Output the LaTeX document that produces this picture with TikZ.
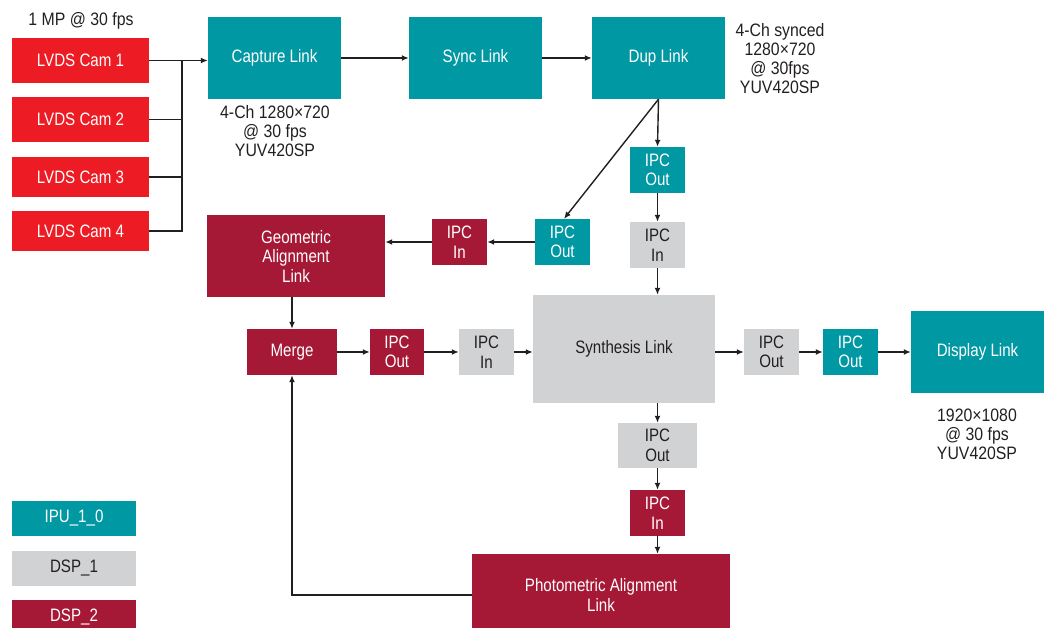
\documentclass[tikz,border=0pt]{standalone}
\usepackage{fontspec}
\setmainfont{Liberation Sans}[FakeStretch=0.84]
\newfontfamily\labelfont{Liberation Sans}[FakeStretch=0.88]
\usetikzlibrary{arrows.meta}
\definecolor{tealc}{RGB}{0,152,163}
\definecolor{redc}{RGB}{237,28,36}
\definecolor{dredc}{RGB}{166,25,54}
\definecolor{grayc}{RGB}{209,210,212}
\definecolor{inkc}{RGB}{35,31,32}
\tikzset{
  box/.style={inner sep=0pt, align=center, font=\fontsize{18}{19.5}\selectfont},
  tealbox/.style={box, fill=tealc, text=white},
  redbox/.style={box, fill=redc, text=white},
  dredbox/.style={box, fill=dredc, text=white},
  graybox/.style={box, fill=grayc, text=inkc},
  lbl/.style={inner sep=0pt, align=center, text=inkc, font=\labelfont\fontsize{18}{19}\selectfont},
  conn/.style={draw=inkc, line width=1.4pt},
  arr/.style={conn, -{Latex[length=7pt,width=6pt]}},
}
\begin{document}
\begin{tikzpicture}[x=1pt,y=-1pt]
\useasboundingbox (0,0) rectangle (1045,628);
% cameras
\node[redbox, minimum width=137, minimum height=45] (cam1) at (80.5,60.5) {LVDS Cam 1};
\node[redbox, minimum width=137, minimum height=45] (cam2) at (80.5,119.5) {LVDS Cam 2};
\node[redbox, minimum width=137, minimum height=40] (cam3) at (80.5,177) {LVDS Cam 3};
\node[redbox, minimum width=137, minimum height=40] (cam4) at (80.5,231) {LVDS Cam 4};
\node[lbl] (mp) at (81,21) {1 MP @ 30 fps};
% top row
\node[tealbox, minimum width=133, minimum height=82] (capture) at (274.5,58) {Capture Link};
\node[tealbox, minimum width=133, minimum height=82] (sync) at (475.5,58) {Sync Link};
\node[tealbox, minimum width=133, minimum height=82] (dup) at (658.5,58) {Dup Link};
\node[lbl] (caplbl) at (275,131) {4-Ch 1280×720\\@ 30 fps\\YUV420SP};
\node[lbl] (duplbl) at (780,59) {4-Ch synced\\1280×720\\@ 30fps\\YUV420SP};
% IPC column under dup
\node[tealbox, minimum width=55, minimum height=46] (ipcout1) at (657.5,170) {IPC\\Out};
\node[graybox, minimum width=55, minimum height=46] (ipcin1) at (657.5,245) {IPC\\In};
\node[tealbox, minimum width=55, minimum height=46] (ipcout2) at (562.5,242) {IPC\\Out};
\node[dredbox, minimum width=55, minimum height=46] (ipcin2) at (459.5,242) {IPC\\In};
\node[dredbox, minimum width=178, minimum height=82] (geo) at (296,256) {Geometric\\Alignment\\Link};
% middle row
\node[dredbox, minimum width=90, minimum height=46] (merge) at (292,352) {Merge};
\node[dredbox, minimum width=54, minimum height=46] (ipcout3) at (397,352) {IPC\\Out};
\node[graybox, minimum width=55, minimum height=46] (ipcin3) at (486.5,352) {IPC\\In};
\node[graybox, minimum width=182, minimum height=108] (synth) at (624,349) {Synthesis Link};
\node[graybox, minimum width=55, minimum height=46] (ipcout4) at (771.5,352) {IPC\\Out};
\node[tealbox, minimum width=55, minimum height=46] (ipcout5) at (850.5,352) {IPC\\Out};
\node[tealbox, minimum width=133, minimum height=82] (display) at (977.5,352) {Display Link};
\node[lbl] (displbl) at (977,434) {1920×1080\\@ 30 fps\\YUV420SP};
% bottom column
\node[graybox, minimum width=79, minimum height=45] (ipcout6) at (657.5,445.5) {IPC\\Out};
\node[dredbox, minimum width=55, minimum height=46] (ipcin6) at (657.5,513) {IPC\\In};
\node[dredbox, minimum width=258, minimum height=82] (photo) at (601,595) {Photometric Alignment\\Link};
% legend
\node[tealbox, minimum width=124, minimum height=35] (leg1) at (74,518.5) {IPU\_1\_0};
\node[graybox, minimum width=124, minimum height=35] (leg2) at (74,568.5) {DSP\_1};
\node[dredbox, minimum width=124, minimum height=35] (leg3) at (74,617.5) {DSP\_2};
% connectors
\coordinate (bus1) at (182,60.5);
\coordinate (bus4) at (182,231);
\draw[conn] (cam2.east) -- (cam2.east -| bus1);
\draw[conn] (cam3.east) -- (cam3.east -| bus1);
\draw[conn] (cam4.east) -- (bus4) -- (bus1);
\draw[arr] (cam1.east) -- (cam1.east -| capture.west);
\draw[arr] (capture.east) -- (sync.west);
\draw[arr] (sync.east) -- (dup.west);
\draw[arr] (dup.south) -- (ipcout1.north);
\draw[arr] (dup.south) -- ([xshift=1.5pt]ipcout2.north);
\draw[arr] (ipcout1.south) -- (ipcin1.north);
\draw[arr] (ipcin1.south) -- (ipcin1.south |- synth.north);
\draw[arr] (ipcout2.west) -- (ipcin2.east);
\draw[arr] (ipcin2.west) -- (ipcin2.west -| geo.east);
\draw[arr] (geo.south -| merge.north) -- (merge.north);
\draw[arr] (merge.east) -- (ipcout3.west);
\draw[arr] (ipcout3.east) -- (ipcin3.west);
\draw[arr] (ipcin3.east) -- (ipcin3.east -| synth.west);
\draw[arr] (synth.east |- ipcout4.west) -- (ipcout4.west);
\draw[arr] (ipcout4.east) -- (ipcout5.west);
\draw[arr] (ipcout5.east) -- (display.west);
\draw[arr] (synth.south -| ipcout6.north) -- (ipcout6.north);
\draw[arr] (ipcout6.south) -- (ipcin6.north);
\draw[arr] (ipcin6.south) -- (ipcin6.south |- photo.north);
\draw[arr] (photo.west) -| (merge.south);
\end{tikzpicture}
\end{document}
